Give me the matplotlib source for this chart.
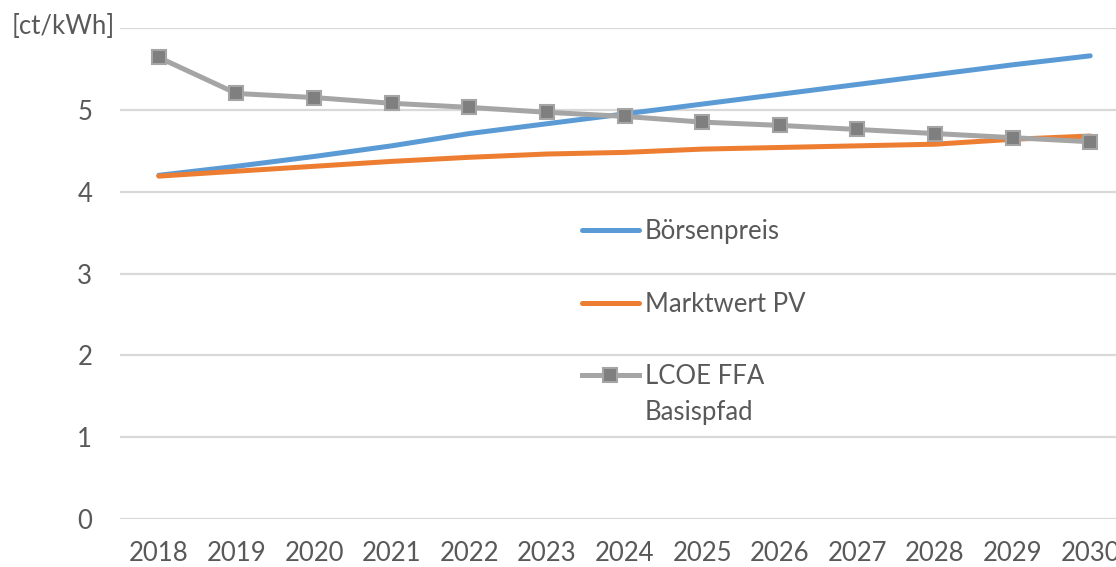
import matplotlib
matplotlib.use("Agg")
import matplotlib.pyplot as plt

# ── Data ──────────────────────────────────────────────────────────────────────
years = ["2018", "2019", "2020", "2021", "2022", "2023", "2024",
         "2025", "2026", "2027", "2028", "2029", "2030"]
boersenpreis = [4.20, 4.31, 4.43, 4.56, 4.71, 4.83, 4.95,
                5.07, 5.19, 5.31, 5.43, 5.55, 5.66]
marktwert_pv = [4.19, 4.25, 4.31, 4.37, 4.42, 4.46, 4.48,
                4.52, 4.54, 4.56, 4.58, 4.64, 4.68]
lcoe_ffa = [5.64, 5.20, 5.15, 5.08, 5.03, 4.97, 4.92,
            4.85, 4.81, 4.76, 4.71, 4.66, 4.61]
yticks = [0, 1, 2, 3, 4, 5]

# ── Style ─────────────────────────────────────────────────────────────────────
C_BLUE = "#5B9BD5"
C_ORG = "#ED7D31"
C_GREY = "#A5A5A5"
C_TEXT = "#595959"
C_GRID = "#D9D9D9"
FS = 18.5

plt.rcParams.update({
    "font.family": ["Lato", "DejaVu Sans"],
    "font.size": FS,
    "text.color": C_TEXT,
})

fig = plt.figure(figsize=(11.16, 5.67), dpi=100)
W, H = 1116, 567
ax = fig.add_axes([120 / W, (H - 519) / H, (1129 - 120) / W, (519 - 28) / H])

x = list(range(len(years)))
ax.plot(x, boersenpreis, color=C_BLUE, lw=3.6, solid_capstyle="round",
        label="Börsenpreis", zorder=3)
ax.plot(x, marktwert_pv, color=C_ORG, lw=3.6, solid_capstyle="round",
        label="Marktwert PV", zorder=3)
ax.plot(x, lcoe_ffa, color=C_GREY, lw=3.6, marker="s", markersize=9.5,
        markerfacecolor="#7F7F7F", markeredgecolor=C_GREY, markeredgewidth=1.5,
        label="LCOE FFA", zorder=4)

ax.set_xlim(-0.5, len(years) - 0.5)
ax.set_ylim(0, 6)
ax.set_xticks(x)
ax.set_xticklabels(years)
ax.set_yticks(yticks + [6])
ax.set_yticklabels([str(v) for v in yticks] + [""])
ax.tick_params(axis="both", length=0, colors=C_TEXT, labelsize=FS)
ax.tick_params(axis="y", pad=20)
ax.tick_params(axis="x", pad=16)
ax.grid(axis="y", color=C_GRID, lw=1.6)
ax.set_axisbelow(True)
for s in ax.spines.values():
    s.set_visible(False)

fig.text(12 / W, 1 - 27 / H, "[ct/kWh]", ha="left", va="center",
         fontsize=FS, color=C_TEXT)

leg = ax.legend(loc="upper left", bbox_to_anchor=(582 / W, 1 - 219 / H),
                bbox_transform=fig.transFigure, frameon=False,
                handlelength=2.2, handletextpad=0.25, labelspacing=1.85,
                borderpad=0, borderaxespad=0, fontsize=FS)
texts = leg.get_texts()
ax.annotate("Basispfad", xy=(0, 0), xycoords=texts[2], xytext=(0, -8),
            textcoords="offset points", ha="left", va="top",
            fontsize=FS, color=C_TEXT, zorder=10)

fig.savefig("out.png", dpi=100, facecolor="white")
